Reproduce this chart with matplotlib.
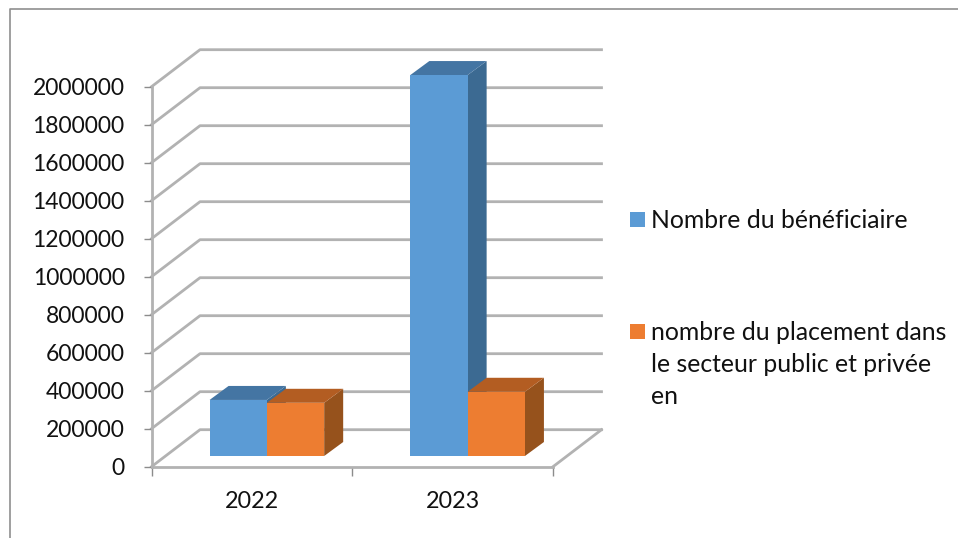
import matplotlib
matplotlib.use("Agg")
import matplotlib.pyplot as plt
from matplotlib.lines import Line2D
from matplotlib.patches import Rectangle

plt.rcParams['font.family'] = ['Lato', 'DejaVu Sans']

years = ['2022', '2023']
beneficiaires = [295000, 2005000]
placements = [280000, 338000]
y_ticks = list(range(0, 2000001, 200000))
legend_1 = 'Nombre du bénéficiaire'
legend_2 = ['nombre du placement dans', 'le secteur public et privée', 'en']

BLUE = ('#5b9bd5', '#4475a3', '#3c6a92')
ORANGE = ('#ed7d31', '#b35d22', '#96521c')
GRID = '#b2b2b2'

W, H = 958, 538
fig = plt.figure(figsize=(W / 100, H / 100), dpi=100, facecolor='white')
L, R, T, B = 151.5, 553, 86.7, 466.7
ax = fig.add_axes([L / W, 1 - B / H, (R - L) / W, (B - T) / H])
ax.set_xlim(0, 2)
ax.set_ylim(0, 2000000)
ax.patch.set_visible(False)
px = 2 / (R - L)
py = 2000000 / (B - T)

# walls: gridlines on the back wall + slanted lines on the left wall / floor
wx, wy = 48.5 * px, 37 * py
for v in y_ticks:
    ax.plot([0, wx, 2 + wx], [v, v + wy, v + wy], color=GRID, lw=2.0,
            clip_on=False, zorder=1, solid_joinstyle='round')
ax.plot([2, 2 + wx], [0, wy], color=GRID, lw=2.0, clip_on=False, zorder=1)


def bar3d(x0, x1, v, cols, z):
    ox, oy = 15 * px, 10.7 * py
    dx, dy = 19 * px, 14 * py
    xa, xb, ya, yb = x0 + ox, x1 + ox, oy, v + oy
    ax.fill([xb, xb + dx, xb + dx, xb], [ya, ya + dy, yb + dy, yb],
            color=cols[2], lw=0, clip_on=False, zorder=z)
    ax.fill([xa, xb, xb + dx, xa + dx], [yb, yb, yb + dy, yb + dy],
            color=cols[1], lw=0, clip_on=False, zorder=z)
    ax.bar(xa, v, width=x1 - x0, bottom=oy, align='edge', color=cols[0],
           lw=0, clip_on=False, zorder=z)


bw = 57.3 * px
for i, (a, b) in enumerate(zip(beneficiaires, placements)):
    c = i + 0.5
    bar3d(c - bw, c, a, BLUE, 3 + i * 2)
    bar3d(c, c + bw, b, ORANGE, 4 + i * 2)

for s in ('top', 'right'):
    ax.spines[s].set_visible(False)
for s in ('left', 'bottom'):
    ax.spines[s].set_color(GRID)
    ax.spines[s].set_linewidth(2.0)
    ax.spines[s].set_zorder(2)

ax.set_yticks(y_ticks)
ax.set_yticklabels([str(v) for v in y_ticks])
ax.set_xticks([0.5, 1.5])
ax.set_xticklabels(years)
ax.set_xticks([0, 1, 2], minor=True)
ax.tick_params(axis='y', length=5.8, width=1, color='#8c8c8c', pad=13.5,
               labelsize=16.5, labelcolor='#111111')
ax.tick_params(axis='x', which='major', length=0, pad=17.5,
               labelsize=16.8, labelcolor='#111111')
ax.tick_params(axis='x', which='minor', length=6.5, width=1, color='#8c8c8c')

# legend
for yc, col in ((219.5, BLUE[0]), (331.5, ORANGE[0])):
    fig.add_artist(Rectangle((630 / W, 1 - (yc + 7.5) / H), 15 / W, 15 / H,
                             transform=fig.transFigure, color=col, lw=0))
fig.text(651 / W, 1 - 220 / H, legend_1, fontsize=17.8, va='center', color='#111111')
for yc, line in zip((332, 364, 396), legend_2):
    fig.text(651 / W, 1 - yc / H, line, fontsize=17.8, va='center', color='#111111')

# outer chart frame, cut by the image edges
fig.add_artist(Line2D([9.5 / W, 9.5 / W, 1], [0, 1 - 8.5 / H, 1 - 8.5 / H],
                      transform=fig.transFigure, color='#8f8f8f', lw=1.2))

fig.savefig('out.png', dpi=100)
